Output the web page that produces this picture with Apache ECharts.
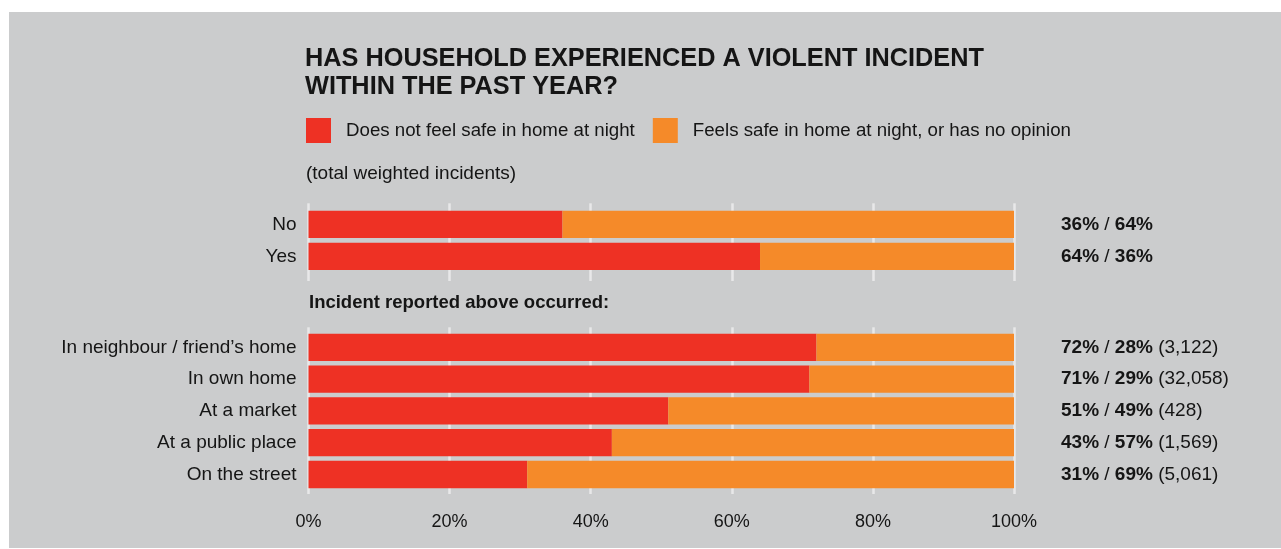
<!DOCTYPE html>
<html>
<head>
<meta charset="utf-8">
<title>Household violent incidents and feeling safe at night</title>
<script src="https://cdn.jsdelivr.net/npm/echarts@6/dist/echarts.min.js"></script>
<style>
  html, body { margin: 0; padding: 0; background: #ffffff; }
  #chart { width: 1281px; height: 549px; }
</style>
</head>
<body>
<div id="chart"></div>
<script>
// Household experienced a violent incident in the past year?
const topCategories = ['No', 'Yes'];
const topNotSafe = [36, 64];
const topSafe = [64, 36];

// Where the reported incident occurred
const placeCategories = ['In neighbour / friend\u2019s home', 'In own home', 'At a market', 'At a public place', 'On the street'];
const placeNotSafe = [72, 71, 51, 43, 31];
const placeSafe = [28, 29, 49, 57, 69];
const placeIncidents = ['3,122', '32,058', '428', '1,569', '5,061'];

// Percentage axis
const axisMin = 0;
const axisMax = 100;
const axisStep = 20;

const NOT_SAFE = 'Does not feel safe in home at night';
const SAFE = 'Feels safe in home at night, or has no opinion';

const FONT = '"Liberation Sans", Arial, Helvetica, sans-serif';
const INK = '#151515';
const RED = '#ee3124';
const ORANGE = '#f58a29';
const PANEL = '#cbcccd';
const RULE = '#e8e8e9';

const chart = echarts.init(document.getElementById('chart'), null, { renderer: 'canvas' });

const plotLeft = 308.5;
const plotWidth = 705.5;

function catAxis(gridIndex, data) {
  return {
    gridIndex: gridIndex,
    type: 'category',
    data: data,
    inverse: true,
    axisLine: { show: false },
    axisTick: { show: false },
    splitLine: { show: false },
    axisLabel: { fontFamily: FONT, fontSize: 19, color: INK, margin: 12 }
  };
}

function ruleAxis(gridIndex, withLabels) {
  return {
    gridIndex: gridIndex,
    type: 'value',
    min: axisMin,
    max: axisMax,
    interval: axisStep,
    axisLine: { show: false },
    axisTick: { show: false },
    splitLine: { show: true, lineStyle: { color: RULE, width: 2.5 } },
    axisLabel: withLabels
      ? { show: true, fontFamily: FONT, fontSize: 18, color: INK, margin: 19, formatter: '{value}%' }
      : { show: false }
  };
}

const richParts = {
  b: { fontFamily: FONT, fontSize: 19, fontWeight: 'bold', color: INK },
  n: { fontFamily: FONT, fontSize: 19, color: INK }
};

function shareLabel(notSafe, safe, counts) {
  return {
    show: true,
    position: 'right',
    distance: 47,
    fontFamily: FONT,
    fontSize: 19,
    color: INK,
    rich: richParts,
    formatter: function (p) {
      const i = p.dataIndex;
      let s = '{b|' + notSafe[i] + '%}{n| / }{b|' + safe[i] + '%}';
      if (counts) s += '{n| (' + counts[i] + ')}';
      return s;
    }
  };
}

function textTitle(text, left, top, size, bold, lineHeight) {
  return {
    text: text,
    left: left,
    top: top,
    padding: 0,
    textStyle: {
      fontFamily: FONT,
      fontSize: size,
      fontWeight: bold ? 'bold' : 'normal',
      color: INK,
      lineHeight: lineHeight
    }
  };
}

const option = {
  animation: false,
  backgroundColor: 'transparent',
  graphic: [{
    type: 'rect',
    z: -10,
    silent: true,
    shape: { x: 9, y: 12, width: 1272, height: 536 },
    style: { fill: PANEL }
  }],
  title: [
    textTitle('HAS HOUSEHOLD EXPERIENCED A VIOLENT INCIDENT\nWITHIN THE PAST YEAR?', 305, 45, 25.3, true, 28),
    textTitle('(total weighted incidents)', 306, 164, 19, false, 19),
    textTitle('Incident reported above occurred:', 309, 293, 18.5, true, 19)
  ],
  legend: {
    left: 306,
    top: 118,
    padding: 0,
    itemWidth: 25,
    itemHeight: 25,
    itemGap: 18,
    icon: 'rect',
    selectedMode: false,
    data: [NOT_SAFE, SAFE],
    textStyle: { fontFamily: FONT, fontSize: 18.7, color: INK, padding: [3, 0, 0, 10] }
  },
  grid: [
    { left: plotLeft, width: plotWidth, top: 208.4, height: 64 },
    { left: plotLeft, width: plotWidth, top: 331.4, height: 159 },
    { left: plotLeft, width: plotWidth, top: 203.3, height: 77.7 },
    { left: plotLeft, width: plotWidth, top: 327.3, height: 166.7 }
  ],
  xAxis: [
    { gridIndex: 0, type: 'value', min: axisMin, max: axisMax, show: false },
    { gridIndex: 1, type: 'value', min: axisMin, max: axisMax, show: false },
    ruleAxis(2, false),
    ruleAxis(3, true)
  ],
  yAxis: [
    catAxis(0, topCategories),
    catAxis(1, placeCategories),
    { gridIndex: 2, type: 'value', min: 0, max: 1, show: false },
    { gridIndex: 3, type: 'value', min: 0, max: 1, show: false }
  ],
  series: [
    {
      name: NOT_SAFE, type: 'bar', stack: 'top', xAxisIndex: 0, yAxisIndex: 0,
      data: topNotSafe, barWidth: 27.3, itemStyle: { color: RED }
    },
    {
      name: SAFE, type: 'bar', stack: 'top', xAxisIndex: 0, yAxisIndex: 0,
      data: topSafe, barWidth: 27.3, itemStyle: { color: ORANGE },
      label: shareLabel(topNotSafe, topSafe, null)
    },
    {
      name: NOT_SAFE, type: 'bar', stack: 'place', xAxisIndex: 1, yAxisIndex: 1,
      data: placeNotSafe, barWidth: 27.3, itemStyle: { color: RED }
    },
    {
      name: SAFE, type: 'bar', stack: 'place', xAxisIndex: 1, yAxisIndex: 1,
      data: placeSafe, barWidth: 27.3, itemStyle: { color: ORANGE },
      label: shareLabel(placeNotSafe, placeSafe, placeIncidents)
    }
  ]
};

chart.setOption(option);
</script>
</body>
</html>
